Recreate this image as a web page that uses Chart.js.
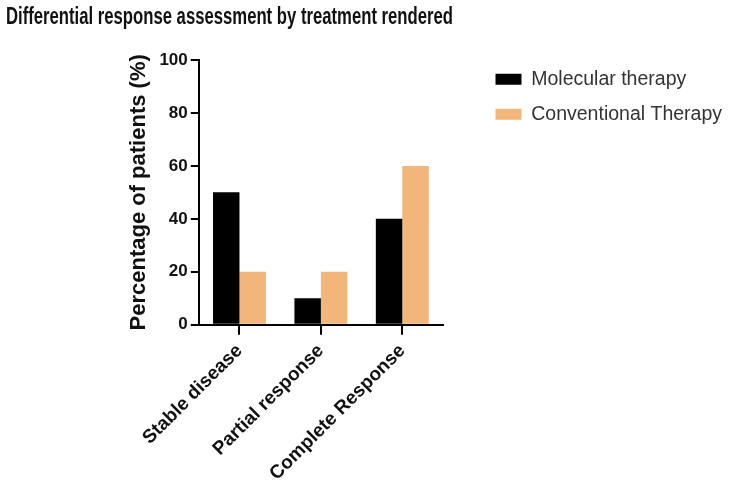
<!DOCTYPE html>
<html>
<head>
<meta charset="utf-8">
<script src="https://cdn.jsdelivr.net/npm/chart.js@4.4.1/dist/chart.umd.min.js"></script>
<style>
  body { margin: 0; background: #fff; }
  #wrap { position: relative; width: 734px; height: 494px; }
  #title {
    position: absolute; left: 6px; top: 3px; margin: 0;
    font: bold 23px "Liberation Sans", Arial, sans-serif; color: #111;
    white-space: nowrap; transform-origin: 0 0;
  }
</style>
</head>
<body>
<div id="wrap">
  <div id="title">Differential response assessment by treatment rendered</div>
  <canvas id="bar-chart" width="734" height="494"></canvas>
</div>
<script>
// data
const categories = ['Stable disease', 'Partial response', 'Complete Response'];
const molecular = [50, 10, 40];
const conventional = [20, 20, 60];
const yTicks = [0, 20, 40, 60, 80, 100];

// legend sits well right of the plot, like the original
const legendSpace = {
  id: 'legendSpace',
  beforeLayout(chart) {
    let lg = chart.legend;
    if (lg && !lg._patched) {
      let fit = lg.fit.bind(lg);
      lg.fit = function() { fit(); this.width = 287; };
      lg._patched = true;
    }
  },
  afterLayout(chart) {
    chart.legend.left += 37;
    chart.legend.top -= 6;
  }
};

window.onload = function() {
  // squeeze the title to the narrow look of the original
  let t = document.getElementById('title');
  let w = t.getBoundingClientRect().width;
  t.style.transform = 'scaleX(' + (447 / w) + ')';

  new Chart(document.getElementById('bar-chart'), {
    type: 'bar',
    data: {
      labels: categories,
      datasets: [
        { label: 'Molecular therapy', data: molecular, backgroundColor: '#000000' },
        { label: 'Conventional Therapy', data: conventional, backgroundColor: '#F2B67B' }
      ]
    },
    plugins: [legendSpace],
    options: {
      responsive: false,
      animation: false,
      layout: { padding: { top: 60, left: 126, right: 4, bottom: 4 } },
      datasets: { bar: { barPercentage: 1, categoryPercentage: 0.65 } },
      plugins: {
        legend: {
          position: 'right',
          align: 'start',
          labels: {
            boxWidth: 26, boxHeight: 11, padding: 15.5,
            color: '#333',
            font: { family: 'Liberation Sans', size: 19.5 }
          }
        },
        tooltip: { enabled: false }
      },
      scales: {
        x: {
          grid: { display: true, drawOnChartArea: false, offset: false, tickLength: 10, color: '#000', lineWidth: 2 },
          border: { color: '#000', width: 2 },
          ticks: {
            minRotation: 45, maxRotation: 45, color: '#111', padding: 5,
            font: { family: 'Liberation Sans', size: 19, weight: 'bold' }
          }
        },
        y: {
          min: 0, max: 100,
          afterBuildTicks: function(scale) { scale.ticks = yTicks.map(v => ({ value: v })); },
          grid: { display: true, drawOnChartArea: false, tickLength: 8, color: '#000', lineWidth: 2 },
          border: { color: '#000', width: 2 },
          ticks: { color: '#111', padding: 3, font: { family: 'Liberation Sans', size: 17, weight: 'bold' } },
          title: {
            display: true, text: 'Percentage of patients (%)', color: '#111',
            padding: { top: 0, bottom: 4 },
            font: { family: 'Liberation Sans', size: 22, weight: 'bold' }
          }
        }
      }
    }
  });
}
</script>
</body>
</html>
